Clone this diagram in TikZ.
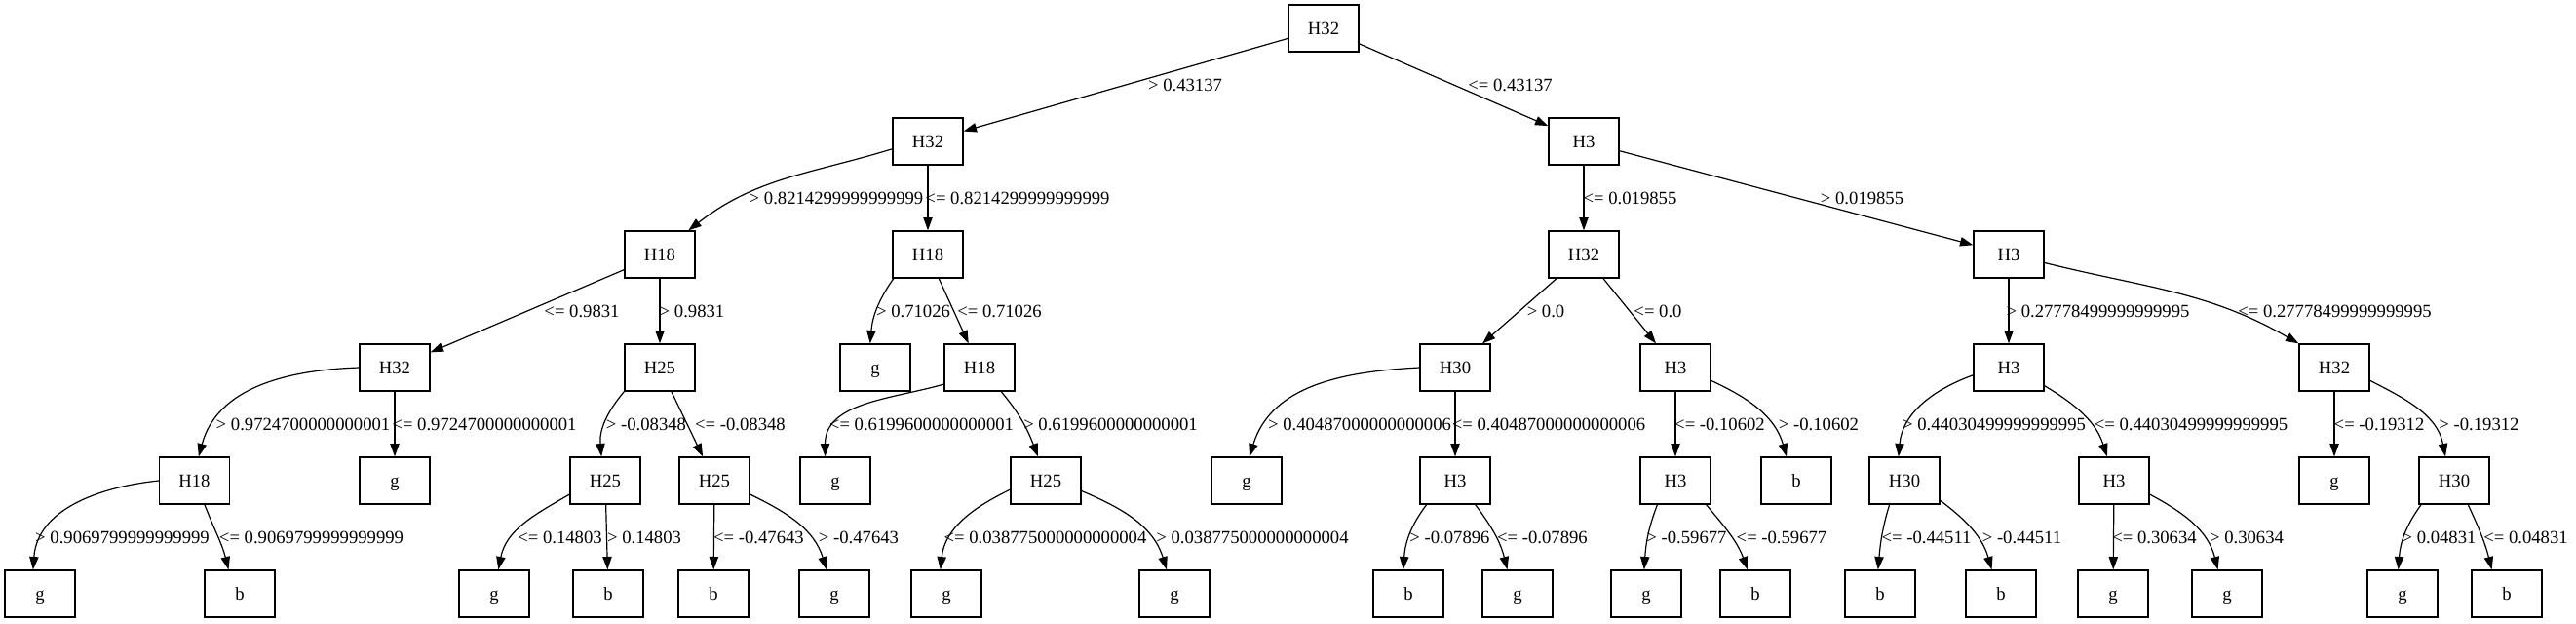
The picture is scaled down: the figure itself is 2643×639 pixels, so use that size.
\documentclass[tikz,border=0pt]{standalone}
\usepackage{fontspec}
\setmainfont{Liberation Serif}
\usetikzlibrary{arrows.meta}
\begin{document}
\begin{tikzpicture}[x=0.75pt,y=-0.75pt,
  font=\fontsize{14pt}{16pt}\selectfont,
  box/.style={draw, line width=1pt, minimum width=54pt, minimum height=36pt, inner sep=0pt, text height=11pt, text depth=2pt},
  lab/.style={inner sep=0pt, text height=11pt, text depth=2pt},
  edge/.style={line width=0.9pt, -{Triangle[length=10pt,width=7pt]}}]
\useasboundingbox (0,0) rectangle (2643,639);
% level 0
\node[box] (n0) at (1358,29) {H32};
% level 1
\node[box] (n1) at (952,145) {H32};
\node[box] (n2) at (1625,145) {H3};
% level 2
\node[box] (n3) at (677,261) {H18};
\node[box] (n4) at (952,261) {H18};
\node[box] (n5) at (1625,261) {H32};
\node[box] (n6) at (2061,261) {H3};
% level 3
\node[box] (n7) at (405,377) {H32};
\node[box] (n8) at (677,377) {H25};
\node[box] (n9) at (898,377) {g};
\node[box] (n10) at (1005,377) {H18};
\node[box] (n11) at (1493,377) {H30};
\node[box] (n12) at (1719,377) {H3};
\node[box] (n13) at (2061,377) {H3};
\node[box] (n14) at (2395,377) {H32};
% level 4
\node[box] (n15) at (199.5,493) {H18};
\node[box] (n16) at (405,493) {g};
\node[box] (n17) at (621,493) {H25};
\node[box] (n18) at (733,493) {H25};
\node[box] (n19) at (857,493) {g};
\node[box] (n20) at (1073,493) {H25};
\node[box] (n21) at (1279,493) {g};
\node[box] (n22) at (1493,493) {H3};
\node[box] (n23) at (1719,493) {H3};
\node[box] (n24) at (1843,493) {b};
\node[box] (n25) at (1954,493) {H30};
\node[box] (n26) at (2169,493) {H3};
\node[box] (n27) at (2395,493) {g};
\node[box] (n28) at (2518,493) {H30};
% level 5
\node[box] (n29) at (41,609) {g};
\node[box] (n30) at (246,609) {b};
\node[box] (n31) at (507,609) {g};
\node[box] (n32) at (624,609) {b};
\node[box] (n33) at (732,609) {b};
\node[box] (n34) at (856,609) {g};
\node[box] (n35) at (971,609) {g};
\node[box] (n36) at (1205,609) {g};
\node[box] (n37) at (1445,609) {b};
\node[box] (n38) at (1557,609) {g};
\node[box] (n39) at (1689,609) {g};
\node[box] (n40) at (1801,609) {b};
\node[box] (n41) at (1929,609) {b};
\node[box] (n42) at (2053,609) {b};
\node[box] (n43) at (2168,609) {g};
\node[box] (n44) at (2285,609) {g};
\node[box] (n45) at (2465,609) {g};
\node[box] (n46) at (2572,609) {b};

% edges
\draw[edge] (n0) -- (n1);
\draw[edge] (n0) -- (n2);
\draw[edge] (n1.192) to[out=197,in=38] (n3.40);
\draw[edge] (n1) -- (n4);
\draw[edge] (n2) -- (n5);
\draw[edge] (n2) -- (n6);
\draw[edge] (n3) -- (n7);
\draw[edge] (n3) -- (n8);
\draw[edge] (n4.215) to[out=235,in=85] (n9.102);
\draw[edge] (n4) -- (n10);
\draw[edge] (n5) -- (n11);
\draw[edge] (n5) -- (n12);
\draw[edge] (n6) -- (n13);
\draw[edge] (n6.347) to[out=-14,in=150] (n14.north west);
\draw[edge] (n7.west) to[out=182,in=75] (n15.80);
\draw[edge] (n7) -- (n16);
\draw[edge] (n8.south west) to[out=230,in=95] (n17.99);
\draw[edge] (n8) -- (n18);
\draw[edge] (n10.205) to[out=196,in=90] (n19.113);
\draw[edge] (n10.312) to[out=-50,in=111] (n20.108);
\draw[edge] (n11.west) to[out=183,in=73] (n21.83);
\draw[edge] (n11) -- (n22);
\draw[edge] (n12) -- (n23);
\draw[edge] (n12.340) to[out=-25,in=106] (n24.112);
\draw[edge] (n13.192) to[out=200,in=85] (n25.104);
\draw[edge] (n13.333) to[out=-31,in=108] (n26.106);
\draw[edge] (n14) -- (n27);
\draw[edge] (n14.340) to[out=-27,in=101] (n28.110);
\draw[edge] (n15.west) to[out=186,in=86] (n29.106);
\draw[edge] (n15.293) to[out=-69,in=104] (n30.115);
\draw[edge] (n17.201) to[out=210,in=79] (n31.80);
\draw[edge] (n17) -- (n32);
\draw[edge] (n18) -- (n33);
\draw[edge] (n18.339) to[out=-26,in=107] (n34.108);
\draw[edge] (n20.194) to[out=206,in=84] (n35.104);
\draw[edge] (n20.344) to[out=-23,in=107] (n36.108);
\draw[edge] (n22.220) to[out=233,in=86] (n37.102);
\draw[edge] (n22.310) to[out=-53,in=104] (n38.113);
\draw[edge] (n23.233) to[out=249,in=86] (n39.95);
\draw[edge] (n23.322) to[out=-50,in=110] (n40.108);
\draw[edge] (n25.238) to[out=253,in=85] (n41.95);
\draw[edge] (n25.331) to[out=-37,in=106] (n42.111);
\draw[edge] (n26) -- (n43);
\draw[edge] (n26.339) to[out=-28,in=104] (n44.111);
\draw[edge] (n28.216) to[out=234,in=86] (n45.100);
\draw[edge] (n28.300) to[out=-65,in=104] (n46.122);

% labels
\node[lab] (l1) at (1216,87) {> 0.43137};
\node[lab] (l2) at (1549.5,87) {<= 0.43137};
\node[lab] (l3) at (858,203) {> 0.8214299999999999};
\node[lab] (l4) at (1044,203) {<= 0.8214299999999999};
\node[lab] (l5) at (1672.5,203) {<= 0.019855};
\node[lab] (l6) at (1910.5,203) {> 0.019855};
\node[lab] (l7) at (597,319) {<= 0.9831};
\node[lab] (l8) at (710,319) {> 0.9831};
\node[lab] (l9) at (937,319) {> 0.71026};
\node[lab] (l10) at (1025.5,319) {<= 0.71026};
\node[lab] (l11) at (1586,319) {> 0.0};
\node[lab] (l12) at (1701,319) {<= 0.0};
\node[lab] (l13) at (2152.5,319) {> 0.27778499999999995};
\node[lab] (l14) at (2395.5,319) {<= 0.27778499999999995};
\node[lab] (l15) at (311,435) {> 0.9724700000000001};
\node[lab] (l16) at (497,435) {<= 0.9724700000000001};
\node[lab] (l17) at (663,435) {> -0.08348};
\node[lab] (l18) at (759.5,435) {<= -0.08348};
\node[lab] (l19) at (945.5,435) {<= 0.6199600000000001};
\node[lab] (l20) at (1139.5,435) {> 0.6199600000000001};
\node[lab] (l21) at (1395,435) {> 0.40487000000000006};
\node[lab] (l22) at (1589,435) {<= 0.40487000000000006};
\node[lab] (l23) at (1764.5,435) {<= -0.10602};
\node[lab] (l24) at (1866,435) {> -0.10602};
\node[lab] (l25) at (2046,435) {> 0.44030499999999995};
\node[lab] (l26) at (2248,435) {<= 0.44030499999999995};
\node[lab] (l27) at (2441,435) {<= -0.19312};
\node[lab] (l28) at (2543.5,435) {> -0.19312};
\node[lab] (l29) at (125.5,551) {> 0.9069799999999999};
\node[lab] (l30) at (319.5,551) {<= 0.9069799999999999};
\node[lab] (l31) at (574.5,551) {<= 0.14803};
\node[lab] (l32) at (661,551) {> 0.14803};
\node[lab] (l33) at (778.5,551) {<= -0.47643};
\node[lab] (l34) at (881,551) {> -0.47643};
\node[lab] (l35) at (1072.5,551) {<= 0.038775000000000004};
\node[lab] (l36) at (1285,551) {> 0.038775000000000004};
\node[lab] (l37) at (1487.5,551) {> -0.07896};
\node[lab] (l38) at (1582.5,551) {<= -0.07896};
\node[lab] (l39) at (1730.5,551) {> -0.59677};
\node[lab] (l40) at (1828,551) {<= -0.59677};
\node[lab] (l41) at (1976.5,551) {<= -0.44511};
\node[lab] (l42) at (2074.5,551) {> -0.44511};
\node[lab] (l43) at (2210.5,551) {<= 0.30634};
\node[lab] (l44) at (2305,551) {> 0.30634};
\node[lab] (l45) at (2502.5,551) {> 0.04831};
\node[lab] (l46) at (2591.5,551) {<= 0.04831};
\end{tikzpicture}
\end{document}
